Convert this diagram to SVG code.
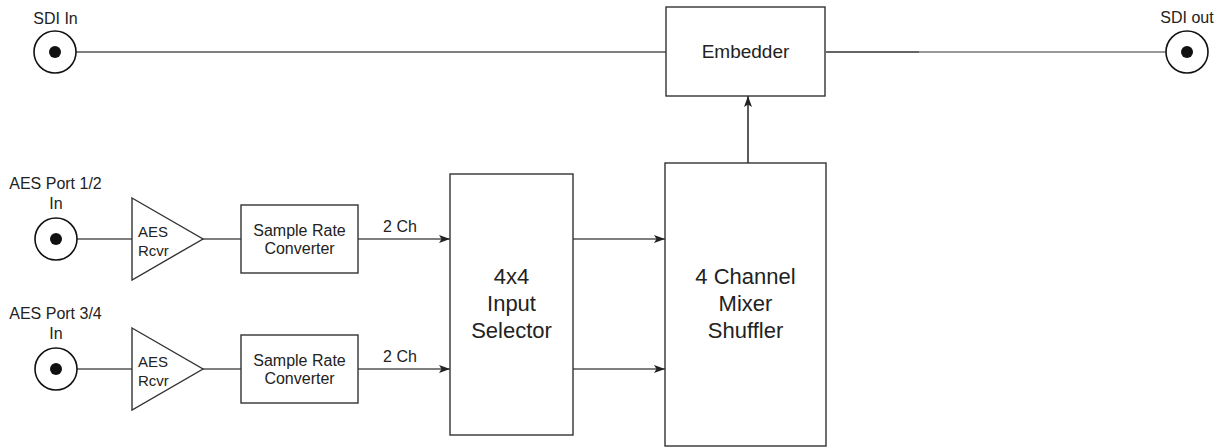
<svg xmlns="http://www.w3.org/2000/svg" width="1226" height="448" viewBox="0 0 1226 448">
<style>
  text { font-family: "Liberation Sans", Arial, Helvetica, sans-serif; fill: #222; }
  .lbl { font-size: 16px; }
  .sm { font-size: 15px; }
  .big { font-size: 22px; }
  .emb { font-size: 19px; }
  .box { fill: #fff; stroke: #333; stroke-width: 1.4; }
  .jack { fill: #fff; stroke: #111; stroke-width: 1.6; }
  .dot { fill: #111; }
  .wire { fill: none; stroke: #555; stroke-width: 1.4; }
  .wire2 { fill: none; stroke: #333; stroke-width: 1.6; }
  .wire3 { fill: none; stroke: #777; stroke-width: 1.4; }
</style>
<defs>
  <marker id="arr" markerUnits="userSpaceOnUse" markerWidth="12" markerHeight="10" refX="11" refY="4.5" orient="auto">
    <path d="M0,0.5 L11,4.5 L0,8.5 L2.5,4.5 Z" fill="#222"/>
  </marker>
</defs>

<g id="connectors">
  <line class="wire" x1="55" y1="52" x2="666" y2="52"/>
  <line class="wire2" x1="826" y1="52" x2="919" y2="52"/>
  <line class="wire3" x1="919" y1="52" x2="1187" y2="52"/>
  <line class="wire" x1="56" y1="239" x2="132" y2="239"/>
  <line class="wire" x1="203" y1="239" x2="241" y2="239"/>
  <line class="wire" x1="358" y1="239" x2="450" y2="239" marker-end="url(#arr)"/>
  <line class="wire" x1="56" y1="369" x2="132" y2="369"/>
  <line class="wire" x1="203" y1="369" x2="241" y2="369"/>
  <line class="wire" x1="358" y1="369" x2="450" y2="369" marker-end="url(#arr)"/>
  <line class="wire" x1="573" y1="239" x2="665" y2="239" marker-end="url(#arr)"/>
  <line class="wire" x1="573" y1="369" x2="665" y2="369" marker-end="url(#arr)"/>
  <line class="wire2" x1="748" y1="163" x2="748" y2="96" marker-end="url(#arr)"/>
  <text class="lbl" x="400" y="232" text-anchor="middle">2 Ch</text>
  <text class="lbl" x="400" y="362" text-anchor="middle">2 Ch</text>
</g>

<g id="sdi-in">
  <text class="lbl" x="55.5" y="24" text-anchor="middle">SDI In</text>
  <circle class="jack" cx="55" cy="52" r="21"/>
  <circle class="dot" cx="55" cy="52" r="6"/>
</g>

<g id="sdi-out">
  <text class="lbl" x="1187" y="23" text-anchor="middle">SDI out</text>
  <circle class="jack" cx="1187" cy="52" r="21"/>
  <circle class="dot" cx="1187" cy="52" r="6"/>
</g>

<g id="embedder">
  <rect class="box" x="666" y="7" width="159" height="89"/>
  <text class="emb" x="745.5" y="58" text-anchor="middle">Embedder</text>
</g>

<g id="aes-port-12">
  <text class="lbl" x="55.5" y="189" text-anchor="middle">AES Port 1/2</text>
  <text class="lbl" x="56" y="209" text-anchor="middle">In</text>
  <circle class="jack" cx="56" cy="239" r="21"/>
  <circle class="dot" cx="56" cy="239" r="6"/>
</g>

<g id="aes-rcvr-1">
  <polygon class="box" points="132,198 203,239 132,280"/>
  <text class="sm" x="138" y="237">AES</text>
  <text class="sm" x="138" y="256">Rcvr</text>
</g>

<g id="src-1">
  <rect class="box" x="241" y="205" width="117" height="68"/>
  <text class="lbl" x="299.5" y="236" text-anchor="middle">Sample Rate</text>
  <text class="lbl" x="299.5" y="254" text-anchor="middle">Converter</text>
</g>

<g id="aes-port-34">
  <text class="lbl" x="55.5" y="319" text-anchor="middle">AES Port 3/4</text>
  <text class="lbl" x="56" y="339" text-anchor="middle">In</text>
  <circle class="jack" cx="56" cy="369" r="21"/>
  <circle class="dot" cx="56" cy="369" r="6"/>
</g>

<g id="aes-rcvr-2">
  <polygon class="box" points="132,328 203,369 132,410"/>
  <text class="sm" x="138" y="367">AES</text>
  <text class="sm" x="138" y="386">Rcvr</text>
</g>

<g id="src-2">
  <rect class="box" x="241" y="335" width="117" height="68"/>
  <text class="lbl" x="299.5" y="366" text-anchor="middle">Sample Rate</text>
  <text class="lbl" x="299.5" y="384" text-anchor="middle">Converter</text>
</g>

<g id="input-selector">
  <rect class="box" x="450" y="174" width="123" height="261"/>
  <text class="big" x="511.5" y="284" text-anchor="middle">4x4</text>
  <text class="big" x="511.5" y="311" text-anchor="middle">Input</text>
  <text class="big" x="511.5" y="338" text-anchor="middle">Selector</text>
</g>

<g id="mixer-shuffler">
  <rect class="box" x="665" y="163" width="161" height="283"/>
  <text class="big" x="745.5" y="284" text-anchor="middle">4 Channel</text>
  <text class="big" x="745.5" y="311" text-anchor="middle">Mixer</text>
  <text class="big" x="745.5" y="338" text-anchor="middle">Shuffler</text>
</g>
</svg>
